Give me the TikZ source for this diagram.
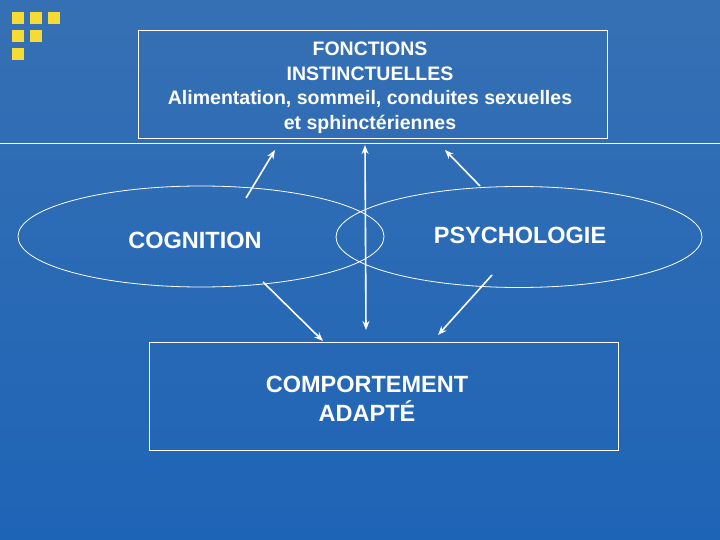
\documentclass[tikz,border=0pt]{standalone}
\usepackage{fontspec}
\setmainfont{Liberation Sans}
\usepackage{xcolor}
\usepackage{tikz}
\usetikzlibrary{shapes.geometric, arrows.meta, positioning}

\definecolor{bgtop}{RGB}{54,112,180}
\definecolor{bgbottom}{RGB}{30,100,182}
\definecolor{squareyellow}{RGB}{248,218,52}

\begin{document}
\begin{tikzpicture}[
    x=1pt, y=-1pt,
    box/.style={rectangle, draw=white, line width=0.8pt, minimum width=469pt, minimum height=108pt, inner sep=0pt},
    oval/.style={ellipse, draw=white, line width=0.8pt, minimum width=366pt, minimum height=101pt, inner sep=0pt},
    label/.style={text=white, align=center, font=\bfseries\fontsize{19.5}{24.5}\selectfont},
    biglabel/.style={text=white, align=center, font=\bfseries\fontsize{23.5}{29}\selectfont},
    arrow/.style={-{Stealth[length=9pt, width=7pt]}, line width=1.6pt, white},
    darrow/.style={{Stealth[length=9pt, width=7pt]}-{Stealth[length=9pt, width=7pt]}, line width=1.6pt, white}
]
    % Background
    \useasboundingbox (0,0) rectangle (720,540);
    \shade[top color=bgtop, bottom color=bgbottom] (0,0) rectangle (720,540);

    % Yellow squares
    \foreach \sx/\sy in {12/12, 30/12, 48/12, 12/30, 30/30, 12/48}
        \fill[squareyellow] (\sx,\sy) rectangle ++(12,12);

    % Separator line
    \draw[white, line width=1pt] (0,144) -- (720,144);

    % Boxes
    \node[box] (fonctions) at (372.5,84) {};
    \node[label] (fontext) at (370,87.5) {FONCTIONS\\INSTINCTUELLES\\Alimentation, sommeil, conduites sexuelles\\et sphinctériennes};
    \node[box] (comportement) at (384,396) {};
    \node[biglabel] (comptext) at (367,399) {COMPORTEMENT\\ADAPTÉ};

    % Ellipses
    \node[oval] (cognition) at (201,236.5) {};
    \node[oval] (psycho) at (519,237) {};
    \node[biglabel] (cogtext) at (195,240) {COGNITION};
    \node[biglabel] (psytext) at (520,235) {PSYCHOLOGIE};

    % Arrow ends
    \coordinate (cogup) at (246,198);
    \coordinate (fonleft) at (275,150);
    \coordinate (psyup) at (480,186);
    \coordinate (fonright) at (445,150);
    \coordinate (midtop) at (365,145);
    \coordinate (midbot) at (366,330);
    \coordinate (cogdown) at (263,282);
    \coordinate (compleft) at (323,341);
    \coordinate (psydown) at (492,275);
    \coordinate (compright) at (438,335);

    \draw[arrow] (cogup) -- (fonleft);
    \draw[arrow] (psyup) -- (fonright);
    \draw[darrow] (midtop) -- (midbot);
    \draw[arrow] (cogdown) -- (compleft);
    \draw[arrow] (psydown) -- (compright);
\end{tikzpicture}
\end{document}
